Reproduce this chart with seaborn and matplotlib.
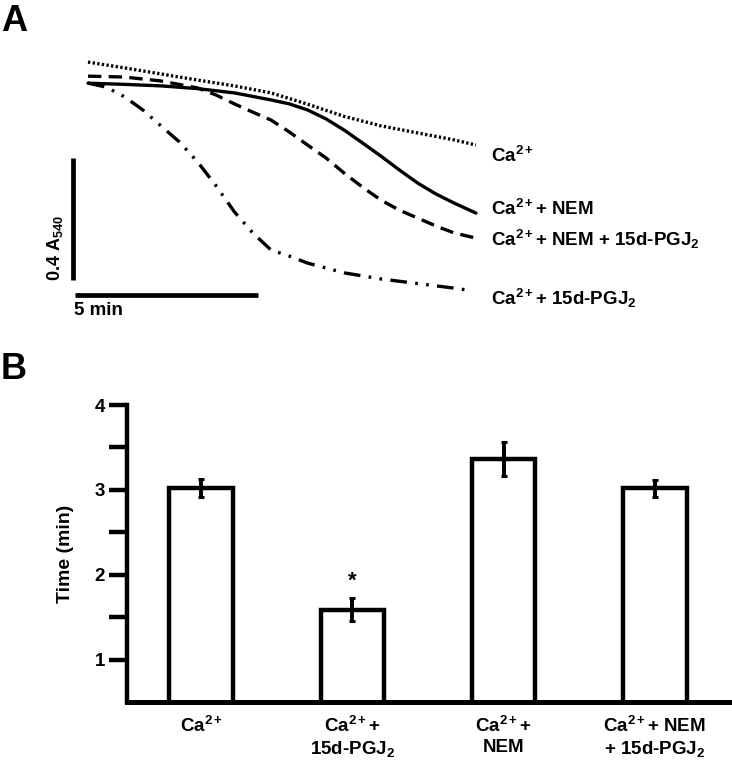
import numpy as np
import pandas as pd
import matplotlib
matplotlib.use("Agg")
import matplotlib.pyplot as plt
import seaborn as sns

# ---------------- data ----------------
# Panel A: absorbance traces (time in min, absorbance in A units)
time_ca = [0, 1, 2, 3, 4, 5, 6, 7, 8, 9, 10, 10.6]
abs_ca = [0.780, 0.761, 0.741, 0.721, 0.702, 0.679, 0.642, 0.602, 0.571, 0.548, 0.525, 0.508]
time_ca_nem = [0, 1, 2, 3, 4, 5, 5.5, 6, 6.5, 7, 7.5, 8, 8.5, 9, 9.5, 10, 10.6]
abs_ca_nem = [0.711, 0.707, 0.702, 0.693, 0.679, 0.656, 0.643, 0.623, 0.594, 0.557, 0.515, 0.472,
              0.427, 0.384, 0.348, 0.318, 0.285]
time_ca_nem_pg = [0, 1, 2, 3, 3.5, 4, 4.5, 5, 5.5, 6, 6.5, 7, 7.5, 8, 8.5, 9, 9.5, 10, 10.6]
abs_ca_nem_pg = [0.734, 0.731, 0.718, 0.695, 0.672, 0.643, 0.616, 0.590, 0.551, 0.508, 0.466, 0.416,
                 0.370, 0.328, 0.295, 0.269, 0.243, 0.220, 0.203]
time_ca_pg = [0, 0.5, 1, 1.5, 2, 2.5, 3, 3.5, 4, 4.5, 5, 5.5, 6, 7, 8, 9, 10, 10.35]
abs_ca_pg = [0.711, 0.698, 0.666, 0.623, 0.570, 0.518, 0.452, 0.374, 0.289, 0.220, 0.164, 0.144,
             0.121, 0.089, 0.069, 0.054, 0.039, 0.033]

trace_labels = ["Ca$^{2+}$", "Ca$^{2+}$+ NEM", "Ca$^{2+}$+ NEM + 15d-PGJ$_2$", "Ca$^{2+}$+ 15d-PGJ$_2$"]
scale_time = 5      # min
scale_abs = 0.4     # A540

# Panel B: bar chart
bar_categories = ["Ca$^{2+}$", "Ca$^{2+}$+\n15d-PGJ$_2$", "Ca$^{2+}$+\nNEM", "Ca$^{2+}$+ NEM\n+ 15d-PGJ$_2$"]
bar_values = [3.02, 1.59, 3.36, 3.02]
bar_errors = [0.11, 0.14, 0.20, 0.10]
yticks_major = [1, 2, 3, 4]
yticks_minor = [1.5, 2.5, 3.5]

# ---------------- style ----------------
sns.set_style("ticks")
plt.rcParams["font.family"] = ["Liberation Sans", "DejaVu Sans"]
plt.rcParams["font.weight"] = "bold"
for k in ["text.color", "axes.labelcolor", "xtick.color", "ytick.color", "axes.edgecolor"]:
    plt.rcParams[k] = "black"
plt.rcParams["mathtext.fontset"] = "custom"
plt.rcParams["mathtext.rm"] = "Liberation Sans:bold"
plt.rcParams["mathtext.it"] = "Liberation Sans:bold"
plt.rcParams["mathtext.bf"] = "Liberation Sans:bold"
plt.rcParams["mathtext.sf"] = "Liberation Sans:bold"
plt.rcParams["mathtext.default"] = "rm"

W, H = 732, 762
fig = plt.figure(figsize=(W / 100, H / 100), dpi=100)

# ---------------- Panel A ----------------
axA = fig.add_axes([0, 1 - 340 / H, 1, 340 / H])
px_per_min = 36.6
px_per_abs = 122 / 0.4
x0_px, y0_px = 88, 300
axA.set_xlim((0 - x0_px) / px_per_min, (W - x0_px) / px_per_min)
axA.set_ylim((y0_px - 340) / px_per_abs, (y0_px - 0) / px_per_abs)
axA.axis("off")

df = pd.concat([
    pd.DataFrame({"t": time_ca, "A": abs_ca, "cond": trace_labels[0]}),
    pd.DataFrame({"t": time_ca_nem, "A": abs_ca_nem, "cond": trace_labels[1]}),
    pd.DataFrame({"t": time_ca_nem_pg, "A": abs_ca_nem_pg, "cond": trace_labels[2]}),
    pd.DataFrame({"t": time_ca_pg, "A": abs_ca_pg, "cond": trace_labels[3]}),
])
dash_map = {
    trace_labels[0]: (0.7, 0.7),
    trace_labels[1]: "",
    trace_labels[2]: (4, 2.2),
    trace_labels[3]: (5, 2.5, 0.8, 2.5, 0.8, 2.5),
}
sns.lineplot(data=df, x="t", y="A", style="cond", dashes=dash_map, color="black",
             linewidth=2.4, legend=False, ax=axA, sort=False)

# scale bars
sx = (73 - x0_px) / px_per_min
sy = (y0_px - 280) / px_per_abs
axA.plot([sx, sx], [sy, sy + scale_abs], color="black", lw=3.4, solid_capstyle="butt")
hx = (75 - x0_px) / px_per_min
hy = (y0_px - 295) / px_per_abs
axA.plot([hx, hx + scale_time], [hy, hy], color="black", lw=3.4, solid_capstyle="butt")
fig.text(55 / W, 1 - 281 / H, "%.1f A$_{540}$" % scale_abs, rotation=90, ha="center", va="bottom",
         fontsize=13, fontweight="bold")
fig.text(74 / W, 1 - 302 / H, "%d min" % scale_time, ha="left", va="top", fontsize=13.5,
         fontweight="bold")

label_y = [156, 209, 239, 298]
for lab, ypx in zip(trace_labels, label_y):
    fig.text(491 / W, 1 - ypx / H, lab, ha="left", va="center", fontsize=13.5, fontweight="bold")

fig.text(1 / W, 1 - 4 / H, "A", ha="left", va="top", fontsize=26, fontweight="bold")
fig.text(1 / W, 1 - 352 / H, "B", ha="left", va="top", fontsize=26, fontweight="bold")

# ---------------- Panel B ----------------
axB = fig.add_axes([127 / W, 1 - 702 / H, (W - 127) / W, 297 / H])
bdf = pd.DataFrame({"cond": bar_categories, "val": bar_values})
sns.barplot(data=bdf, x="cond", y="val", color="white", edgecolor="black", linewidth=3.2,
            width=0.42, errorbar=None, ax=axB, saturation=1)
axB.errorbar(np.arange(len(bar_values)), bar_values, yerr=bar_errors, fmt="none", ecolor="black",
             elinewidth=2.8, capsize=2.5, capthick=2.2)
axB.text(1, bar_values[1] + bar_errors[1] + 0.19, "*", ha="center", va="center", fontsize=16,
         fontweight="bold")
axB.set_xlim(-0.49, 3.51)
axB.set_ylim(0.5, 4)
axB.set_yticks(yticks_major)
axB.set_yticklabels([str(v) for v in yticks_major])
axB.set_yticks(yticks_minor, minor=True)
axB.tick_params(axis="y", which="both", length=13, width=3.2, direction="out", pad=3,
                labelsize=13.5)
axB.tick_params(axis="x", length=0, pad=10, labelsize=13.5)
for lab in axB.get_xticklabels() + axB.get_yticklabels():
    lab.set_fontweight("bold")
for lab in axB.get_xticklabels():
    lab.set_linespacing(1.2)
axB.set_xlabel("")
axB.set_ylabel("Time (min)", fontsize=14, fontweight="bold", labelpad=15)
for side in ["top", "right"]:
    axB.spines[side].set_visible(False)
axB.spines["left"].set_linewidth(3.2)
axB.spines["bottom"].set_linewidth(3.6)
axB.spines["left"].set_capstyle("projecting")
axB.spines["bottom"].set_capstyle("projecting")

fig.savefig("out.png", dpi=100)
